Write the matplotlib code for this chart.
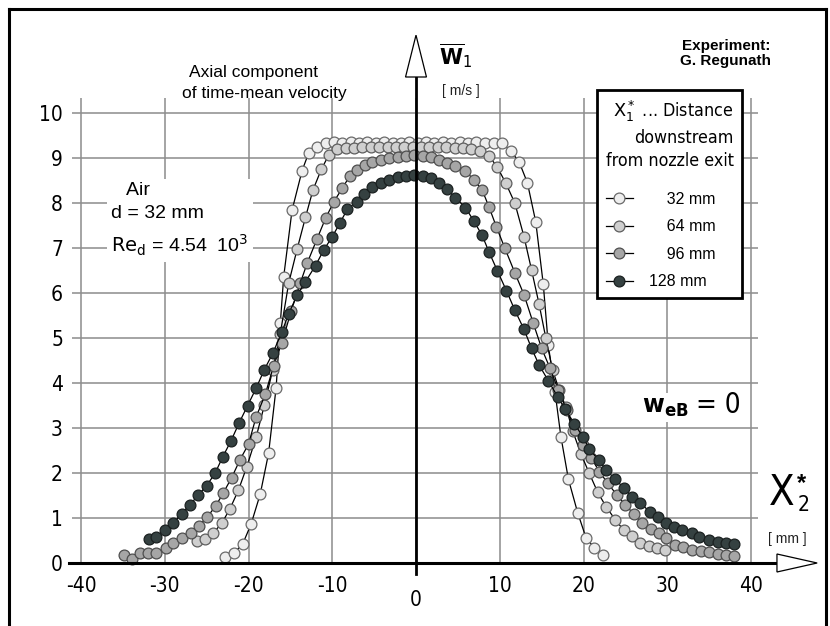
import os
import matplotlib
matplotlib.use("Agg")
import matplotlib.pyplot as plt
from matplotlib.lines import Line2D
from matplotlib.patches import Polygon
from matplotlib import font_manager as fm
from matplotlib.font_manager import FontProperties

plt.rcParams['axes.unicode_minus'] = False
plt.rcParams['mathtext.fontset'] = 'dejavusans'

PLAIN = ['Liberation Sans', 'DejaVu Sans']


def find_narrow():
    # look for any condensed / narrow regular face that happens to be installed
    prefs = ['LiberationSansNarrow-Regular', 'DejaVuSansCondensed.',
             'RobotoCondensed-Regular', 'OpenSans_Condensed-Regular',
             'OpenSansCondensed', 'Condensed-Regular', 'Narrow-Regular',
             'Condensed.', 'Narrow.']
    files = [f.fname for f in fm.fontManager.ttflist]
    for p in prefs:
        for fn in files:
            if p in os.path.basename(fn):
                return fn
    return None


NARROW_FILE = find_narrow()


def narrow(size):
    if NARROW_FILE:
        return FontProperties(fname=NARROW_FILE, size=size)
    return FontProperties(family='DejaVu Sans', size=size * 0.88)


# radial profiles, x2* [mm] -> mean axial velocity [m/s]
x32 = [-22.8, -21.7, -20.7, -19.7, -18.6, -17.6, -16.7, -16.2, -15.8, -14.8,
       -13.6, -12.8, -11.8, -10.8, -9.8, -8.8, -7.8, -6.8, -5.8, -4.8,
       -3.8, -2.8, -1.8, -0.8, 0.2, 1.2, 2.2, 3.2, 4.2, 5.2,
       6.2, 7.2, 8.2, 9.3, 10.3, 11.3, 12.3, 13.3, 14.3, 15.2,
       15.8, 16.6, 17.3, 18.2, 19.3, 20.3, 21.3, 22.3]
w32 = [0.14, 0.23, 0.42, 0.86, 1.53, 2.44, 3.90, 5.33, 6.36, 7.84,
       8.72, 9.12, 9.25, 9.33, 9.35, 9.34, 9.35, 9.34, 9.35, 9.34,
       9.35, 9.34, 9.34, 9.35, 9.34, 9.35, 9.34, 9.35, 9.34, 9.35,
       9.34, 9.35, 9.34, 9.33, 9.33, 9.16, 8.92, 8.45, 7.58, 6.19,
       4.84, 3.80, 2.81, 1.86, 1.12, 0.56, 0.34, 0.18]

x64 = [-26.2, -25.2, -24.2, -23.2, -22.2, -21.2, -20.2, -19.1, -18.1, -17.1,
       -16.2, -15.2, -14.2, -13.2, -12.3, -11.3, -10.4, -9.4, -8.4, -7.4,
       -6.4, -5.4, -4.4, -3.4, -2.4, -1.4, -0.4, 0.6, 1.6, 2.6,
       3.6, 4.6, 5.6, 6.6, 7.7, 8.7, 9.7, 10.7, 11.8, 12.9,
       13.8, 14.7, 15.5, 16.3, 17.1, 17.9, 18.7, 19.7, 20.7, 21.7,
       22.7, 23.8, 24.8, 25.8, 26.8, 27.8, 28.8, 29.7]
w64 = [0.49, 0.53, 0.67, 0.88, 1.21, 1.62, 2.14, 2.79, 3.51, 4.30,
       5.10, 6.22, 6.97, 7.68, 8.29, 8.75, 9.07, 9.19, 9.22, 9.23,
       9.24, 9.24, 9.25, 9.24, 9.25, 9.24, 9.25, 9.24, 9.25, 9.24,
       9.24, 9.23, 9.22, 9.20, 9.15, 9.05, 8.80, 8.45, 8.00, 7.25,
       6.51, 5.75, 5.00, 4.30, 3.84, 3.47, 2.94, 2.42, 1.99, 1.57,
       1.25, 0.96, 0.73, 0.60, 0.45, 0.38, 0.33, 0.29]

x96 = [-34.9, -33.9, -33.0, -32.0, -31.0, -29.9, -29.0, -27.9, -26.9, -25.9,
       -24.9, -23.9, -23.0, -22.0, -21.0, -20.0, -19.1, -18.0, -17.0, -16.0,
       -14.9, -13.8, -13.0, -11.8, -10.8, -9.8, -8.8, -7.9, -7.0, -6.1,
       -5.2, -4.2, -3.2, -2.2, -1.2, -0.2, 0.8, 1.8, 2.7, 3.7,
       4.7, 5.9, 6.9, 7.9, 8.7, 9.6, 10.6, 11.8, 12.9, 14.0,
       15.0, 16.0, 17.0, 18.0, 19.0, 19.9, 20.9, 21.9, 22.9, 24.0,
       25.0, 26.0, 27.0, 28.0, 29.0, 29.9, 30.9, 31.9, 32.9, 34.0,
       35.0, 36.0, 37.0, 38.0]
w96 = [0.18, 0.10, 0.23, 0.23, 0.23, 0.33, 0.44, 0.55, 0.66, 0.83,
       1.03, 1.27, 1.56, 1.90, 2.30, 2.64, 3.24, 3.75, 4.38, 4.90,
       5.60, 6.23, 6.66, 7.21, 7.66, 8.03, 8.33, 8.60, 8.73, 8.84,
       8.92, 8.96, 9.00, 9.02, 9.04, 9.07, 9.04, 9.02, 8.96, 8.90,
       8.83, 8.72, 8.51, 8.29, 7.92, 7.47, 7.00, 6.45, 5.96, 5.33,
       4.77, 4.33, 3.84, 3.40, 2.95, 2.62, 2.34, 2.03, 1.77, 1.51,
       1.29, 1.09, 0.88, 0.75, 0.66, 0.55, 0.41, 0.36, 0.30, 0.27,
       0.24, 0.21, 0.18, 0.16]

x128 = [-31.9, -31.1, -30.0, -29.0, -28.0, -27.0, -26.0, -25.0, -24.0, -23.1,
        -22.1, -21.1, -20.1, -19.1, -18.1, -17.1, -16.0, -15.2, -14.2, -13.2,
        -12.0, -11.0, -10.0, -9.1, -8.2, -7.1, -6.2, -5.2, -4.2, -3.2,
        -2.2, -1.2, -0.2, 0.8, 1.8, 2.7, 3.7, 4.7, 5.9, 6.9,
        7.9, 8.7, 9.7, 10.8, 11.8, 12.9, 13.8, 14.7, 15.8, 16.9,
        17.8, 18.9, 19.9, 20.7, 21.8, 22.7, 23.8, 24.8, 25.8, 26.8,
        27.9, 28.9, 29.8, 30.8, 31.8, 32.9, 33.8, 35.0, 36.0, 37.0,
        38.0]
w128 = [0.53, 0.58, 0.73, 0.88, 1.10, 1.29, 1.51, 1.72, 1.99, 2.35,
        2.71, 3.12, 3.50, 3.88, 4.30, 4.66, 5.14, 5.54, 5.95, 6.25,
        6.61, 6.96, 7.25, 7.55, 7.86, 8.03, 8.20, 8.35, 8.45, 8.51,
        8.57, 8.60, 8.62, 8.60, 8.55, 8.45, 8.30, 8.12, 7.90, 7.60,
        7.28, 6.92, 6.50, 6.05, 5.62, 5.19, 4.77, 4.40, 4.05, 3.70,
        3.42, 3.10, 2.81, 2.53, 2.29, 2.07, 1.86, 1.67, 1.47, 1.33,
        1.14, 1.03, 0.88, 0.81, 0.73, 0.67, 0.57, 0.51, 0.47, 0.45,
        0.42]

series = [
    (x32, w32, '#eeeeee', '#6a6a6a', '\u2007\u200732 mm'),
    (x64, w64, '#cfcfcf', '#5e5e5e', '\u2007\u200764 mm'),
    (x96, w96, '#a6a6a6', '#4e4e4e', '\u2007\u200796 mm'),
    (x128, w128, '#354141', '#1a2020', '128 mm'),
]

x_ticks = [-40, -30, -20, -10, 0, 10, 20, 30, 40]
x_labels = ['-40', '-30', '-20', '-10', '', '10', '20', '30', '40']
y_ticks = list(range(0, 11))

fig = plt.figure(figsize=(8.3, 6.26), dpi=100)
ax = fig.add_axes([81 / 830, 63 / 626, 670 / 830, 450 / 626])
ax.set_xlim(-40, 40)
ax.set_ylim(0, 10)
for s in ax.spines.values():
    s.set_visible(False)

# grid, drawn a bit past the axes like the original
ax.hlines(y_ticks, -41.1, 40.8, color='#8c8c8c', lw=1.1, zorder=0, clip_on=False)
ax.vlines(x_ticks, 0, 10.33, color='#8c8c8c', lw=1.1, zorder=0, clip_on=False)

handles = []
for xs, ws, fc, ec, lab in series:
    ln, = ax.plot(xs, ws, color='black', lw=0.9, marker='o', ms=7.8,
                  mfc=fc, mec=ec, mew=0.9, label=lab, clip_on=False, zorder=3)
    handles.append(ln)

# axes with arrows
ax.plot([0, 0], [-0.25, 10.8], color='black', lw=2.0, clip_on=False, zorder=4)
ax.plot([-41.4, 43.1], [0, 0], color='black', lw=2.2, clip_on=False, zorder=4)
ax.add_patch(Polygon([[-1.25, 10.8], [1.25, 10.8], [0, 11.73]], closed=True,
                     fc='white', ec='black', lw=0.9, clip_on=False, zorder=4))
ax.add_patch(Polygon([[43.1, -0.2], [43.1, 0.2], [47.9, 0]], closed=True,
                     fc='white', ec='black', lw=0.9, clip_on=False, zorder=4))

ax.set_xticks(x_ticks)
ax.set_xticklabels(x_labels, fontproperties=narrow(15))
ax.set_yticks(y_ticks)
ax.set_yticklabels([str(v) for v in y_ticks], fontproperties=narrow(15))
ax.tick_params(axis='x', length=0, pad=9)
ax.tick_params(axis='y', length=0, pad=13)
ax.text(0, -0.82, '0', fontproperties=narrow(15), ha='center', va='center')

# labels and notes
ax.text(2.7, 11.07, r'$\overline{\mathbf{W}}_{1}$', fontsize=15, ha='left',
        va='baseline')
ax.text(5.4, 10.49, '[ m/s ]', family=PLAIN, fontsize=10, ha='center',
        va='center', color='#222222')
ax.text(-27.1, 10.91, 'Axial component', family=PLAIN, fontsize=12.5,
        ha='left', va='center')
ax.text(-27.9, 10.44, 'of time-mean velocity', family=PLAIN, fontsize=12.5,
        ha='left', va='center')
ax.text(37.0, 11.33, 'Experiment:\nG. Regunath', family=PLAIN, fontsize=11,
        fontweight='bold', ha='center', va='center', linespacing=1.1)
ax.text(-36.4, 6.91, '   Air\nd = 32 mm\n$\\mathrm{Re_d}$ = 4.54  10$^3$',
        family=PLAIN, fontsize=14, ha='left', va='baseline', linespacing=1.5,
        bbox=dict(fc='white', ec='none', pad=3), zorder=2)
ax.text(27.0, 3.33, r'$\mathbf{w_{eB}}$', fontsize=17, ha='left',
        va='baseline', bbox=dict(fc='white', ec='none', pad=2), zorder=2)
ax.text(33.4, 3.33, '= 0', fontproperties=narrow(20), ha='left',
        va='baseline', bbox=dict(fc='white', ec='none', pad=2), zorder=2)
ax.text(42.1, 1.29, 'X', fontproperties=narrow(30), ha='left',
        va='baseline')
ax.text(45.5, 1.62, '*', family=PLAIN, fontsize=17, ha='left',
        va='baseline', fontweight='bold')
ax.text(45.6, 1.15, '2', fontproperties=narrow(15), ha='left',
        va='baseline')
ax.text(44.3, 0.53, '[ mm ]', family=PLAIN, fontsize=10, ha='center',
        va='center', color='#222222')

leg = ax.legend(handles, [h.get_label() for h in handles],
                title='$\\mathrm{X_1^*}$ ... Distance\ndownstream\nfrom nozzle exit',
                loc='upper left', bbox_to_anchor=(0.770, 1.051),
                bbox_transform=ax.transAxes, borderaxespad=0, frameon=True,
                fancybox=False, edgecolor='black', framealpha=1,
                borderpad=0.55, handlelength=1.7, handletextpad=1.0,
                labelspacing=0.78, alignment='left',
                title_fontproperties=narrow(12.8),
                prop=FontProperties(family=PLAIN, size=11.5))
leg.get_frame().set_linewidth(2.0)
leg.get_title().set_multialignment('right')
leg.get_title().set_linespacing(1.35)
leg._legend_box.sep = 16  # a bit more room between title and entries
leg.set_zorder(6)

# picture frame
for xs, ys in [([9 / 830, 9 / 830], [0, 1 - 8.5 / 626]),
               ([9 / 830, 826 / 830], [1 - 8.5 / 626, 1 - 8.5 / 626]),
               ([826 / 830, 826 / 830], [0, 1 - 8.5 / 626])]:
    fig.add_artist(Line2D(xs, ys, color='black', lw=2.2,
                          transform=fig.transFigure))

fig.savefig('out.png', dpi=100)
